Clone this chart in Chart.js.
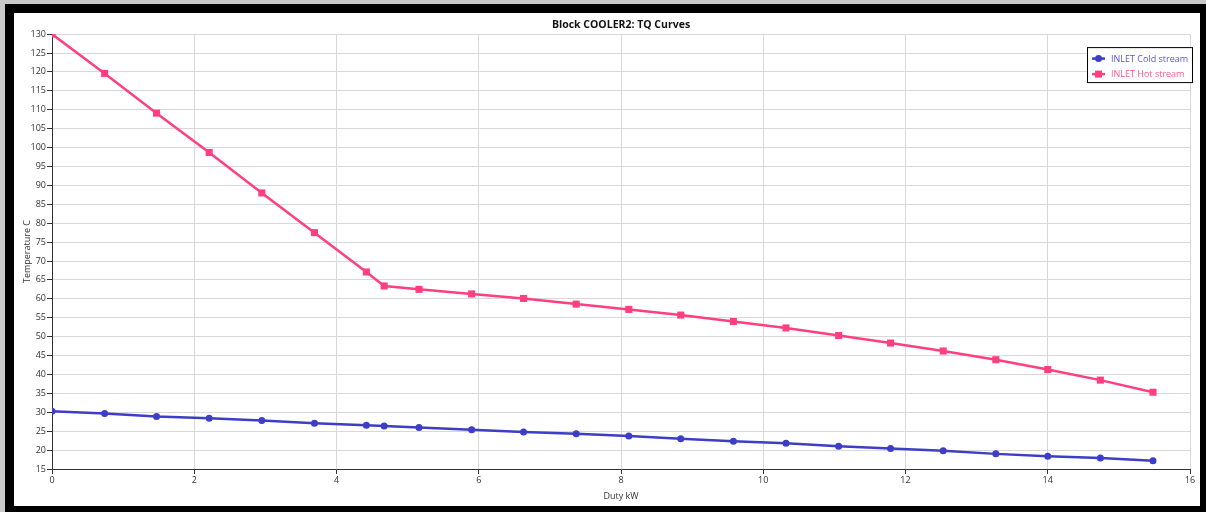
<!DOCTYPE html>
<html>
<head>
<meta charset="utf-8">
<title>Block COOLER2: TQ Curves</title>
<script src="https://cdn.jsdelivr.net/npm/chart.js@4.4.1/dist/chart.umd.min.js"></script>
<style>
  html, body { margin: 0; padding: 0; width: 1206px; height: 512px; overflow: hidden; background: #c9c9c9; }
  #frame {
    position: absolute; left: 5px; top: 4px;
    width: 1186px; height: 493px;
    border-style: solid; border-color: #000;
    border-width: 9px 6px 6px 9px;
    background: #fff;
  }
  #wrap { position: relative; width: 1186px; height: 493px; }
</style>
</head>
<body>
<div id="frame">
  <div id="wrap"><canvas id="tqChart"></canvas></div>
</div>
<script>
// Duty (kW) at each curve point, shared by both streams
const duty = [0, 0.74, 1.47, 2.21, 2.95, 3.69, 4.42, 4.67, 5.16, 5.9, 6.63, 7.37,
              8.11, 8.84, 9.58, 10.32, 11.06, 11.79, 12.53, 13.27, 14.0, 14.74, 15.48];

// Temperatures (C)
const coldTemp = [30.3, 29.7, 28.9, 28.4, 27.8, 27.1, 26.6, 26.4, 26.0, 25.35, 24.8, 24.3,
                  23.7, 23.0, 22.35, 21.8, 21.0, 20.4, 19.8, 19.0, 18.4, 17.9, 17.2];
const hotTemp = [130, 119.6, 109.1, 98.7, 88.0, 77.5, 67.1, 63.4, 62.5, 61.3, 60.1, 58.6,
                 57.2, 55.7, 54.0, 52.3, 50.3, 48.3, 46.2, 43.9, 41.3, 38.5, 35.3];

const seriesLabels = ['INLET Cold stream', 'INLET Hot stream'];

const COLD = '#3d3dc6';
const HOT = '#ff3f80';
const legendText = ['#5757d6', '#ff5791'];

Chart.defaults.font.family = "'Open Sans', 'Noto Sans', sans-serif";
Chart.defaults.color = '#333';

const toPoints = (ys) => duty.map((x, i) => ({ x: x, y: ys[i] }));

// legend box drawn inside the plot, top right corner
const boxLegend = {
  id: 'boxLegend',
  afterDraw(chart) {
    const { ctx, chartArea } = chart;
    const w = 106, h = 36;
    const x = chartArea.right + 3 - w;
    const y = chartArea.top + 13;
    ctx.save();
    ctx.fillStyle = '#fff';
    ctx.fillRect(x, y, w, h);
    ctx.strokeStyle = '#000';
    ctx.lineWidth = 1;
    ctx.strokeRect(x + 0.5, y + 0.5, w - 1, h - 1);
    ctx.font = "9px 'Open Sans', 'Noto Sans', sans-serif";
    ctx.textBaseline = 'middle';
    chart.data.datasets.forEach((ds, i) => {
      const cy = y + 11.5 + i * 15.5;
      ctx.strokeStyle = ds.borderColor;
      ctx.lineWidth = 2.5;
      ctx.beginPath();
      ctx.moveTo(x + 5, cy);
      ctx.lineTo(x + 18, cy);
      ctx.stroke();
      ctx.fillStyle = ds.borderColor;
      if (ds.pointStyle === 'rect') {
        ctx.fillRect(x + 8, cy - 3.5, 7, 7);
      } else {
        ctx.beginPath();
        ctx.arc(x + 11.5, cy, 3.5, 0, Math.PI * 2);
        ctx.fill();
      }
      ctx.fillStyle = legendText[i];
      ctx.fillText(ds.label, x + 24, cy + 0.5);
    });
    ctx.restore();
  }
};

const ctx = document.getElementById('tqChart').getContext('2d');
const tqChart = new Chart(ctx, {
  type: 'line',
  data: {
    datasets: [{
      label: seriesLabels[0],
      data: toPoints(coldTemp),
      borderColor: COLD,
      backgroundColor: COLD,
      borderWidth: 2.5,
      pointStyle: 'circle',
      pointRadius: 3.5,
      pointBorderWidth: 0,
      tension: 0
    }, {
      label: seriesLabels[1],
      data: toPoints(hotTemp),
      borderColor: HOT,
      backgroundColor: HOT,
      borderWidth: 2.5,
      pointStyle: 'rect',
      pointRadius: 5,
      pointBorderWidth: 0,
      tension: 0
    }]
  },
  options: {
    responsive: true,
    maintainAspectRatio: false,
    animation: false,
    layout: { padding: { left: 0, right: 10, top: 0, bottom: 0 } },
    plugins: {
      legend: { display: false },
      tooltip: { enabled: false },
      title: {
        display: true,
        text: 'Block COOLER2: TQ Curves',
        fullSize: false,
        color: '#111',
        font: { size: 10.5, weight: 'bold' },
        padding: { top: 6, bottom: 2.5 }
      }
    },
    scales: {
      x: {
        type: 'linear',
        min: 0,
        max: 16,
        afterFit: (scale) => { scale.height = 37; },
        ticks: { stepSize: 2, padding: 1, font: { size: 9 }, color: '#333', maxRotation: 0 },
        grid: { color: '#d8d8d8', tickColor: '#333', tickLength: 5 },
        border: { color: '#333', width: 1 },
        title: { display: true, text: 'Duty kW', font: { size: 9 }, color: '#333', padding: { top: 0, bottom: 4 } }
      },
      y: {
        min: 15,
        max: 130,
        afterFit: (scale) => { scale.width = 38; },
        ticks: { stepSize: 5, padding: 1, font: { size: 9 }, color: '#333' },
        grid: { color: '#d8d8d8', tickColor: '#333', tickLength: 5 },
        border: { color: '#333', width: 1 },
        title: { display: true, text: 'Temperature C', font: { size: 9 }, color: '#333', padding: { top: 8, bottom: 0 } }
      }
    }
  },
  plugins: [boxLegend]
});
</script>
</body>
</html>
